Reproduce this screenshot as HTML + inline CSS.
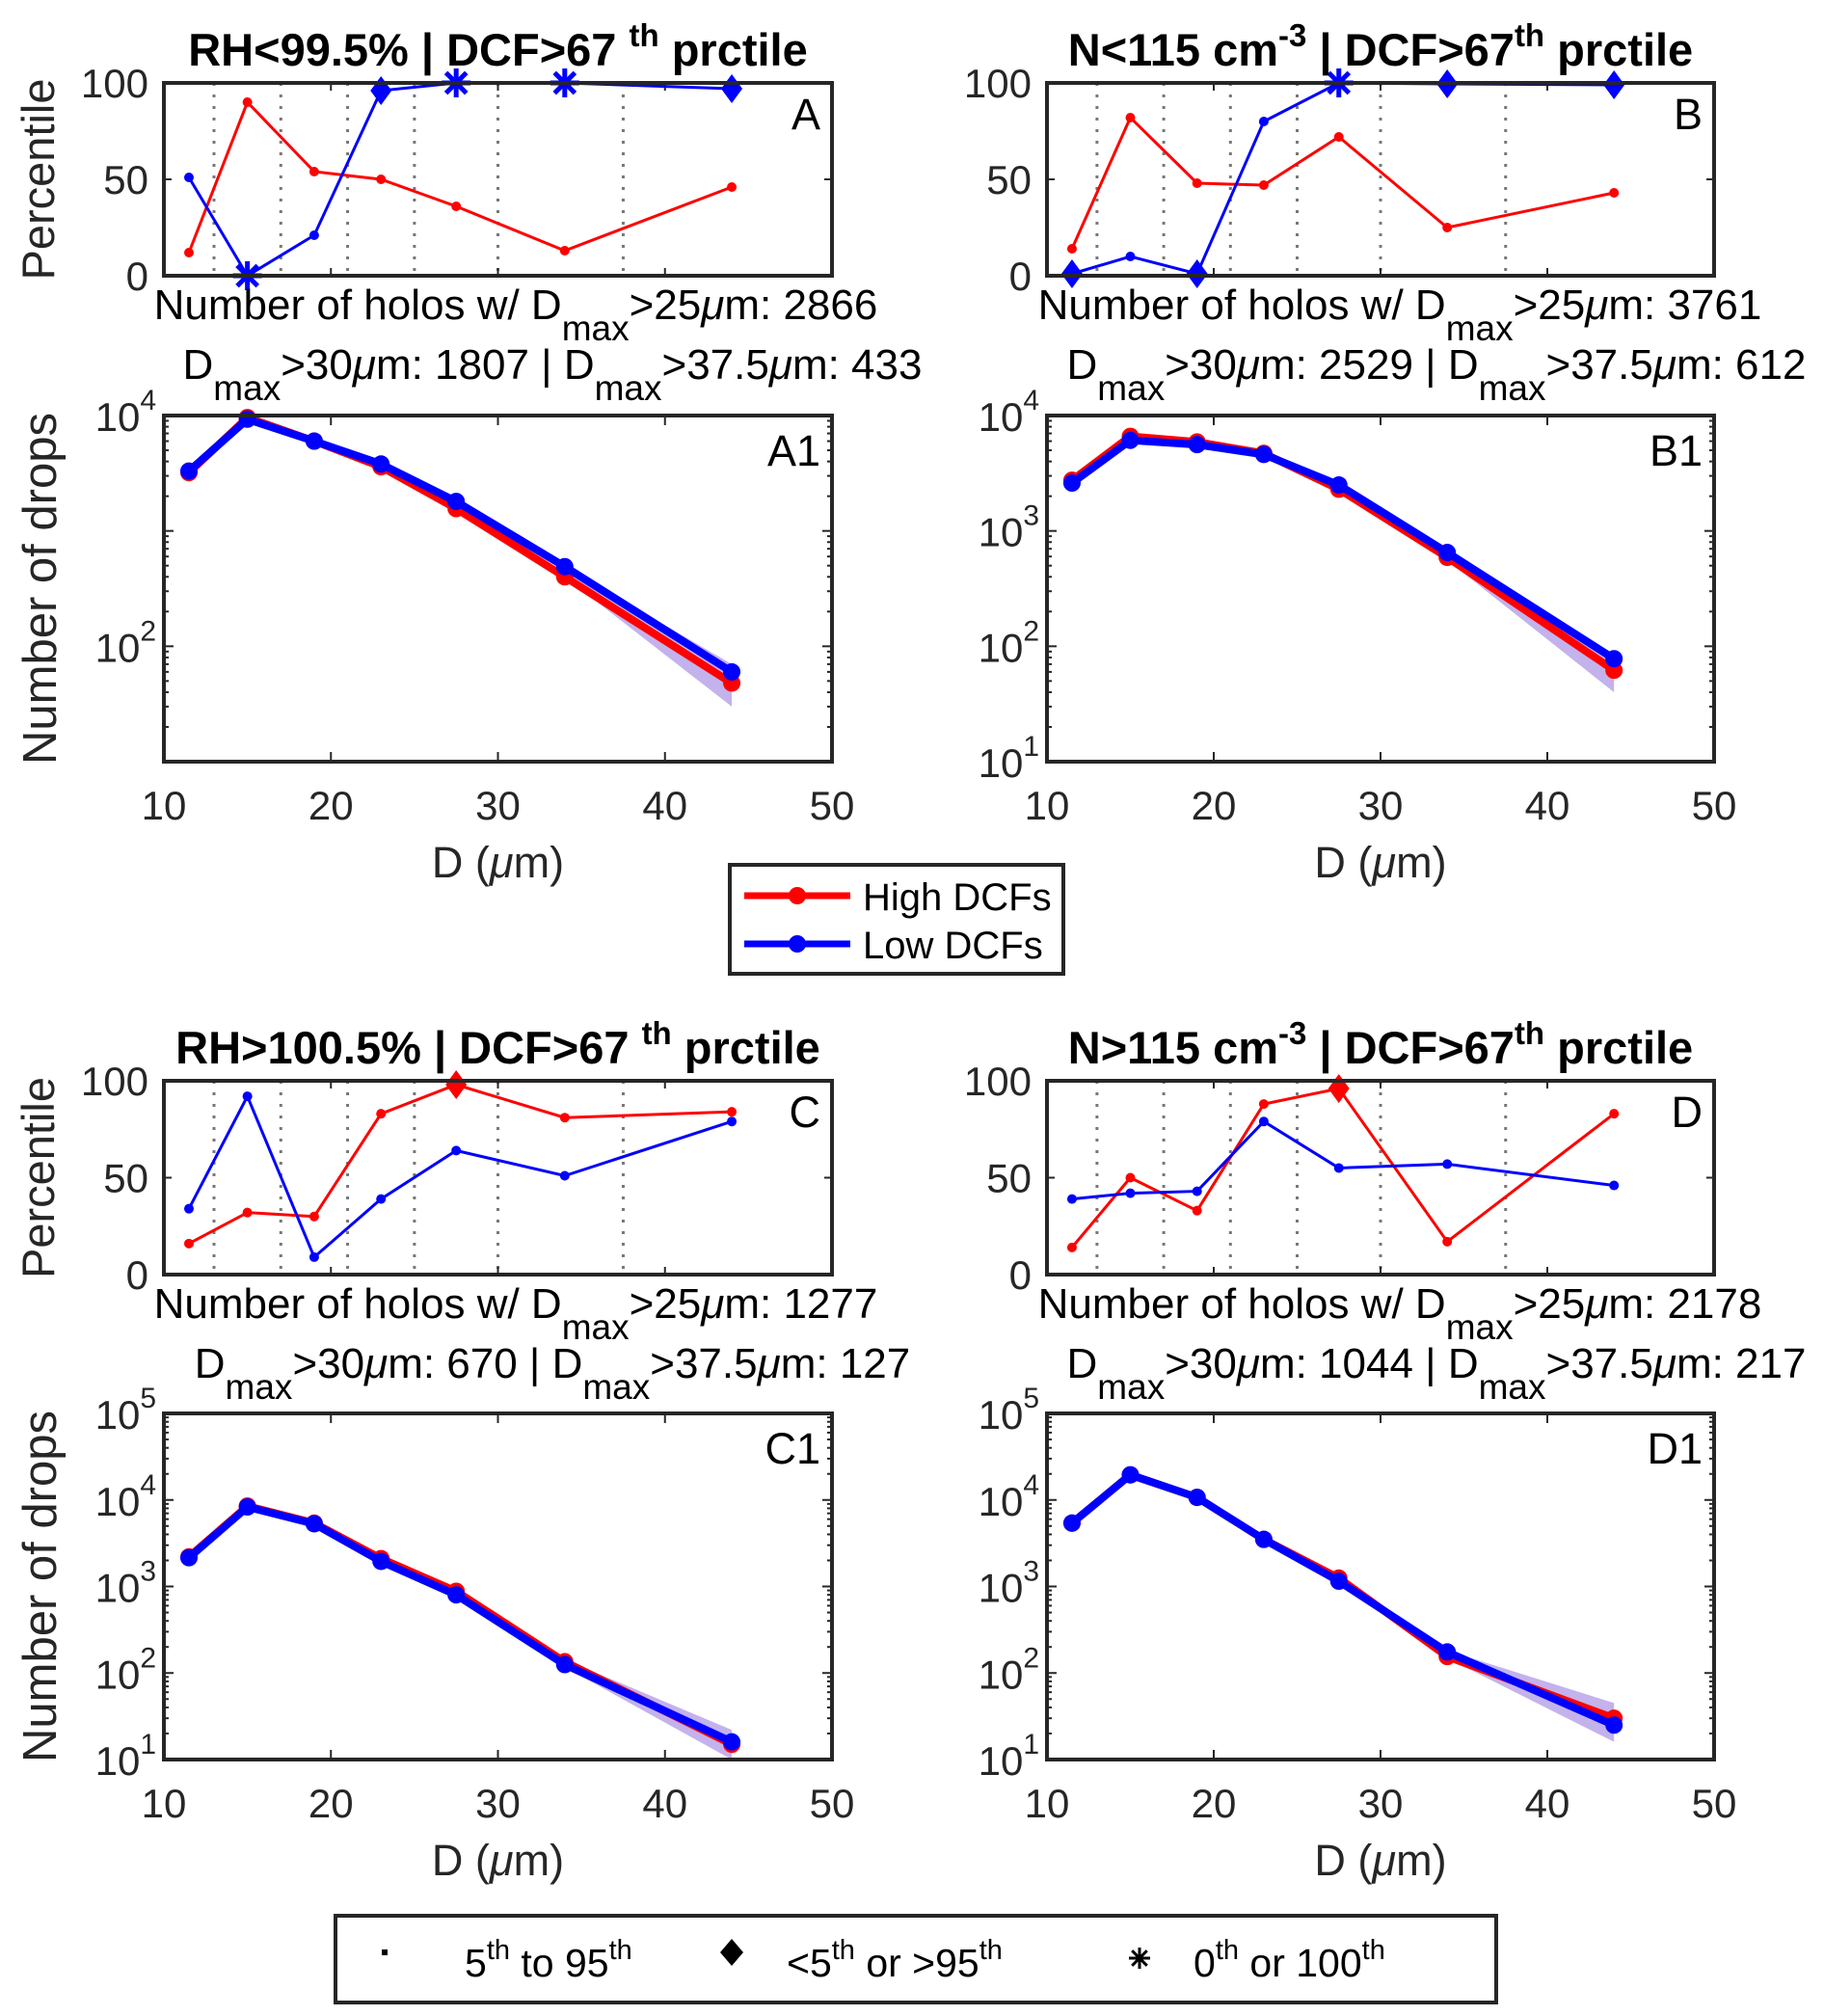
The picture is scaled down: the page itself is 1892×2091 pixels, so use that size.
<!DOCTYPE html>
<html><head><meta charset="utf-8">
<style>
html,body{margin:0;padding:0;background:#fff;}
svg{display:block;font-family:"Liberation Sans",Arial,sans-serif;}
</style></head>
<body>
<svg id="fig" width="1892" height="2091" viewBox="0 0 1892 2091" xmlns="http://www.w3.org/2000/svg"></svg>
<script>
// ---------- data ----------
const dX = [11.5, 15, 19, 23, 27.5, 34, 44];
const dashX = [13, 17, 21, 25, 30, 37.5];
const xTicks = [10, 20, 30, 40, 50];
const pTicks = [0, 50, 100];

const pctA_red = [12, 90, 54, 50, 36, 13, 46];
const pctA_blue = [51, 0, 21, 96, 100, 100, 97];
const pctB_red = [14, 82, 48, 47, 72, 25, 43];
const pctB_blue = [1, 10, 1, 80, 100, 99.5, 99];
const pctC_red = [16, 32, 30, 83, 98, 81, 84];
const pctC_blue = [34, 92, 9, 39, 64, 51, 79];
const pctD_red = [14, 50, 33, 88, 96, 17, 83];
const pctD_blue = [39, 42, 43, 79, 55, 57, 46];

const nA_red = [3200, 9600, 6000, 3600, 1560, 400, 48];
const nA_blue = [3300, 9300, 6000, 3800, 1800, 490, 60];
const nB_red = [2750, 6600, 5900, 4700, 2300, 590, 62];
const nB_blue = [2600, 6100, 5600, 4600, 2500, 650, 78];
const nC_red = [2200, 8500, 5400, 2100, 880, 135, 15];
const nC_blue = [2150, 8300, 5300, 1950, 800, 125, 16];
const nD_red = [5400, 19500, 10700, 3500, 1250, 155, 30];
const nD_blue = [5400, 19500, 10700, 3500, 1150, 175, 25];

// ensemble spread at last point [low, high]
const spreadA = [30, 70];
const spreadB = [40, 80];
const spreadC = [10, 22];
const spreadD = [16, 45];

const countsA = ["2866", "1807", "433"];
const countsB = ["3761", "2529", "612"];
const countsC = ["1277", "670", "127"];
const countsD = ["2178", "1044", "217"];

// ---------- helpers ----------
const NS = "http://www.w3.org/2000/svg";
const svg = document.getElementById("fig");
function mk(tag, attrs, parent) {
  const el = document.createElementNS(NS, tag);
  for (const k in attrs) el.setAttribute(k, attrs[k]);
  (parent || svg).appendChild(el);
  return el;
}
const RED = "#ff0000", BLUE = "#0000ff", AX = "#262626";

function linX(x0, x1) { return v => x0 + (v - 10) / 40 * (x1 - x0); }

function markerFor(g, x, y, v, color, name) {
  let el;
  if (v <= 0 || v >= 100) {
    el = mk("g", {}, g);
    for (let a = 0; a < 4; a++) {
      const ang = a * Math.PI / 4;
      mk("line", {x1: x - 15 * Math.cos(ang), y1: y - 15 * Math.sin(ang), x2: x + 15 * Math.cos(ang), y2: y + 15 * Math.sin(ang), stroke: color, "stroke-width": 5}, el);
    }
  } else if (v < 5 || v > 95) {
    el = mk("polygon", {points: `${x},${y-15} ${x+11},${y} ${x},${y+15} ${x-11},${y}`, fill: color}, g);
  } else {
    el = mk("circle", {cx: x, cy: y, r: 5, fill: color}, g);
  }
  
  
}

function pctPanel(x0, x1, y0, y1, red, blue, letter, title, showYLabel) {
  const g = mk("g", {});
  
  
  const sx = linX(x0, x1);
  const sy = v => y1 - v / 100 * (y1 - y0);
  for (const d of dashX) {
    const l = mk("line", {x1: sx(d), x2: sx(d), y1: y0, y2: y1, stroke: "#777", "stroke-width": 3, "stroke-dasharray": "3,9"}, g);
    
    
  }
  for (const t of xTicks) {
    mk("line", {x1: sx(t), x2: sx(t), y1: y1, y2: y1 - 8, stroke: AX, "stroke-width": 2}, g);
    mk("line", {x1: sx(t), x2: sx(t), y1: y0, y2: y0 + 8, stroke: AX, "stroke-width": 2}, g);
  }
  for (const t of pTicks) {
    mk("line", {x1: x0, x2: x0 + 8, y1: sy(t), y2: sy(t), stroke: AX, "stroke-width": 2}, g);
    mk("line", {x1: x1, x2: x1 - 8, y1: sy(t), y2: sy(t), stroke: AX, "stroke-width": 2}, g);
    const tl = mk("text", {x: x0 - 16, y: sy(t) + 15, "text-anchor": "end", "font-size": 42, fill: AX}, g);
    tl.textContent = t;
    
    
  }
  [[red, RED, "red"], [blue, BLUE, "blue"]].forEach(([arr, c, nm]) => {
    const pts = arr.map((v, i) => `${sx(dX[i])},${sy(v)}`).join(" ");
    const pl = mk("polyline", {points: pts, fill: "none", stroke: c, "stroke-width": 3}, g);
    
    
    arr.forEach((v, i) => markerFor(g, sx(dX[i]), sy(v), v, c, 'percentile-marker-' + nm));
  });
  const box = mk("rect", {x: x0, y: y0, width: x1 - x0, height: y1 - y0, fill: "none", stroke: AX, "stroke-width": 4}, g);
  
  
  const lt = mk("text", {x: x1 - 12, y: y0 + 48, "text-anchor": "end", "font-size": 45, fill: "#000"}, g);
  lt.textContent = letter;
  
  
  const tt = mk("text", {x: (x0 + x1) / 2, y: y0 - 18, "text-anchor": "middle", "font-size": 47, "font-weight": "bold", fill: "#000"}, g);
  tt.innerHTML = title;
  
  
  if (showYLabel) {
    const yl = mk("text", {x: 0, y: 0, transform: `translate(56,${(y0 + y1) / 2}) rotate(-90)`, "text-anchor": "middle", "font-size": 47, fill: AX}, g);
    yl.textContent = "Percentile";
    
    
  }
}

function annot(cx, y, counts) {
  const t1 = mk("text", {x: cx, y: y, "text-anchor": "middle", "font-size": 44, fill: "#000"});
  t1.innerHTML = `Number of holos w/ D<tspan dy="22" font-size="37">max</tspan><tspan dy="-22">&gt;25</tspan><tspan font-style="italic">μ</tspan>m: ${counts[0]}`;
  
  
  const t2 = mk("text", {x: cx + 38, y: y + 62, "text-anchor": "middle", "font-size": 44, fill: "#000"});
  t2.innerHTML = `D<tspan dy="22" font-size="37">max</tspan><tspan dy="-22">&gt;30</tspan><tspan font-style="italic">μ</tspan>m: ${counts[1]} | D<tspan dy="22" font-size="37">max</tspan><tspan dy="-22">&gt;37.5</tspan><tspan font-style="italic">μ</tspan>m: ${counts[2]}`;
  
  
}

function nPanel(x0, x1, y0, y1, lmin, lmax, labelDecades, red, blue, spread, letter, showYLabel) {
  const g = mk("g", {});
  
  
  const sx = linX(x0, x1);
  const sy = v => y1 - (Math.log10(v) - lmin) / (lmax - lmin) * (y1 - y0);
  for (let d = Math.floor(lmin); d < lmax; d++) {
    for (let m = 1; m <= 9; m++) {
      const v = m * Math.pow(10, d);
      const lv = Math.log10(v);
      if (lv < lmin - 1e-9 || lv > lmax + 1e-9) continue;
      const len = m === 1 ? 10 : 5;
      mk("line", {x1: x0, x2: x0 + len, y1: sy(v), y2: sy(v), stroke: AX, "stroke-width": 2}, g);
      mk("line", {x1: x1, x2: x1 - len, y1: sy(v), y2: sy(v), stroke: AX, "stroke-width": 2}, g);
    }
  }
  for (const d of labelDecades) {
    const y = sy(Math.pow(10, d));
    const tl = mk("text", {x: x0 - 8, y: y + 16, "text-anchor": "end", "font-size": 42, fill: AX}, g);
    tl.innerHTML = `10<tspan dy="-22" font-size="30">${d}</tspan>`;
    
    
  }
  for (const t of xTicks) {
    mk("line", {x1: sx(t), x2: sx(t), y1: y1, y2: y1 - 10, stroke: AX, "stroke-width": 2}, g);
    mk("line", {x1: sx(t), x2: sx(t), y1: y0, y2: y0 + 10, stroke: AX, "stroke-width": 2}, g);
    const tl = mk("text", {x: sx(t), y: y1 + 60, "text-anchor": "middle", "font-size": 42, fill: AX}, g);
    tl.textContent = t;
    
    
  }
  const n = dX.length;
  const base = (red[n - 2] + blue[n - 2]) / 2;
  const wedge = mk("polygon", {points: `${sx(dX[n-2])},${sy(base*1.1)} ${sx(dX[n-1])},${sy(spread[1])} ${sx(dX[n-1])},${sy(spread[0])} ${sx(dX[n-2])},${sy(base*0.9)}`, fill: "#6a3fd0", opacity: 0.4}, g);
  
  
  [[red, RED, "red"], [blue, BLUE, "blue"]].forEach(([arr, c, nm]) => {
    const pts = arr.map((v, i) => `${sx(dX[i])},${sy(v)}`).join(" ");
    const pl = mk("polyline", {points: pts, fill: "none", stroke: c, "stroke-width": 8, "stroke-linejoin": "round"}, g);
    
    
    arr.forEach((v, i) => {
      const ci = mk("circle", {cx: sx(dX[i]), cy: sy(v), r: 9, fill: c}, g);
      
      
    });
  });
  const box = mk("rect", {x: x0, y: y0, width: x1 - x0, height: y1 - y0, fill: "none", stroke: AX, "stroke-width": 4}, g);
  
  
  const lt = mk("text", {x: x1 - 12, y: y0 + 52, "text-anchor": "end", "font-size": 45, fill: "#000"}, g);
  lt.textContent = letter;
  
  
  const xl = mk("text", {x: (x0 + x1) / 2, y: y1 + 120, "text-anchor": "middle", "font-size": 45, fill: AX}, g);
  xl.innerHTML = `D (<tspan font-style="italic">μ</tspan>m)`;
  
  
  if (showYLabel) {
    const yl = mk("text", {x: 0, y: 0, transform: `translate(58,${(y0 + y1) / 2}) rotate(-90)`, "text-anchor": "middle", "font-size": 49, fill: AX}, g);
    yl.textContent = "Number of drops";
    
    
  }
}

// ---------- layout ----------
const L = [170, 863], R = [1086, 1778];
const thS = '<tspan dy="-20" font-size="33">th</tspan><tspan dy="20"> prctile</tspan>';
const cmS = '<tspan dy="-20" font-size="33">-3</tspan><tspan dy="20"> | DCF&gt;67</tspan>';
pctPanel(L[0], L[1], 86, 286, pctA_red, pctA_blue, "A", 'RH&lt;99.5% | DCF&gt;67 ' + thS, true);
pctPanel(R[0], R[1], 86, 286, pctB_red, pctB_blue, "B", 'N&lt;115 cm' + cmS + thS, false);
pctPanel(L[0], L[1], 1121, 1322, pctC_red, pctC_blue, "C", 'RH&gt;100.5% | DCF&gt;67 ' + thS, true);
pctPanel(R[0], R[1], 1121, 1322, pctD_red, pctD_blue, "D", 'N&gt;115 cm' + cmS + thS, false);

annot(535, 331, countsA);
annot(1452, 331, countsB);
annot(535, 1367, countsC);
annot(1452, 1367, countsD);

nPanel(L[0], L[1], 431, 790, 1, 4, [2, 4], nA_red, nA_blue, spreadA, "A1", true);
nPanel(R[0], R[1], 431, 790, 1, 4, [1, 2, 3, 4], nB_red, nB_blue, spreadB, "B1", false);
nPanel(L[0], L[1], 1466, 1825, 1, 5, [1, 2, 3, 4, 5], nC_red, nC_blue, spreadC, "C1", true);
nPanel(R[0], R[1], 1466, 1825, 1, 5, [1, 2, 3, 4, 5], nD_red, nD_blue, spreadD, "D1", false);

// ---------- legends ----------
const lg = mk("g", {});


mk("rect", {x: 757, y: 897, width: 346, height: 113, fill: "#fff", stroke: AX, "stroke-width": 4}, lg);
[["High DCFs", RED, 929], ["Low DCFs", BLUE, 979]].forEach(([lab, c, y]) => {
  const e = mk("g", {}, lg);
  
  
  mk("line", {x1: 772, x2: 882, y1: y, y2: y, stroke: c, "stroke-width": 7}, e);
  mk("circle", {cx: 827, cy: y, r: 9, fill: c}, e);
  const t = mk("text", {x: 895, y: y + 15, "font-size": 40, fill: "#000"}, e);
  t.textContent = lab;
});

const mg = mk("g", {});


mk("rect", {x: 348, y: 1987, width: 1204, height: 90, fill: "#fff", stroke: AX, "stroke-width": 4}, mg);
mk("rect", {x: 396, y: 2022, width: 6, height: 6, fill: "#000"}, mg);
const m1 = mk("text", {x: 482, y: 2050, "font-size": 41, fill: "#000"}, mg);
m1.innerHTML = '5<tspan dy="-18" font-size="29">th</tspan><tspan dy="18"> to 95</tspan><tspan dy="-18" font-size="29">th</tspan>';


mk("polygon", {points: "759,2011 771,2025 759,2039 747,2025", fill: "#000"}, mg);
const m2 = mk("text", {x: 816, y: 2050, "font-size": 41, fill: "#000"}, mg);
m2.innerHTML = '&lt;5<tspan dy="-18" font-size="29">th</tspan><tspan dy="18"> or &gt;95</tspan><tspan dy="-18" font-size="29">th</tspan>';


const st = mk("g", {}, mg);


for (let a = 0; a < 4; a++) {
  const ang = a * Math.PI / 4;
  mk("line", {x1: 1182 - 11 * Math.cos(ang), y1: 2031 - 11 * Math.sin(ang), x2: 1182 + 11 * Math.cos(ang), y2: 2031 + 11 * Math.sin(ang), stroke: "#000", "stroke-width": 3}, st);
}
const m3 = mk("text", {x: 1238, y: 2050, "font-size": 41, fill: "#000"}, mg);
m3.innerHTML = '0<tspan dy="-18" font-size="29">th</tspan><tspan dy="18"> or 100</tspan><tspan dy="-18" font-size="29">th</tspan>';


</script>
</body></html>
